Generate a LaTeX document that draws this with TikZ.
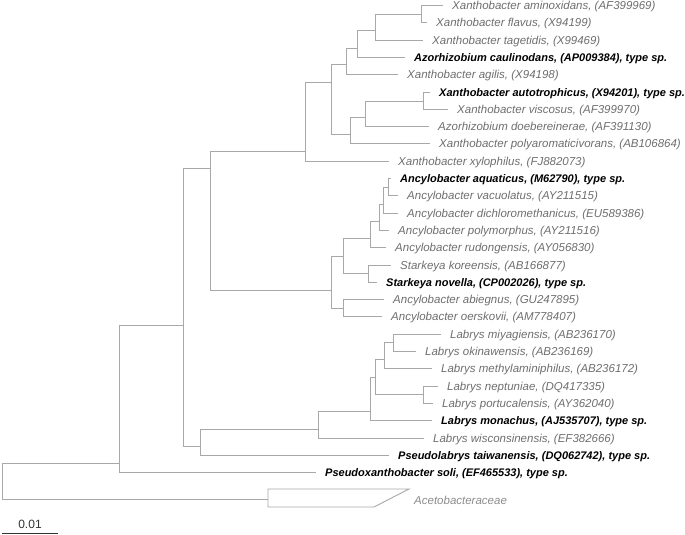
\documentclass[tikz,border=0pt]{standalone}
\usepackage{fontspec}
\setmainfont{Liberation Sans}
\definecolor{brc}{HTML}{A8A8A8}
\definecolor{txc}{HTML}{6E6E6E}
\definecolor{acc}{HTML}{8C8C8C}
\tikzset{
 br/.style={draw=brc, line width=0.9pt},
 lf/.style={anchor=west, inner xsep=9pt, inner ysep=0pt, text height=8pt, text depth=0pt, font=\fontsize{11.5}{12}\selectfont\itshape, text=txc},
 tp/.style={lf, text=black, font=\fontsize{11}{12}\selectfont\bfseries\itshape},
}
\begin{document}
\begin{tikzpicture}[x=1pt,y=-1pt]
\useasboundingbox (0,0) rectangle (685,535);
% internal nodes
\coordinate (root) at (2,481);
\coordinate (n119) at (119,463);
\coordinate (n183) at (183,325);
\coordinate (n210) at (210,168);
\coordinate (n305) at (305,151);
\coordinate (n331) at (331,82);
\coordinate (n346) at (346,64);
\coordinate (n357) at (357,48);
\coordinate (n375) at (375,30);
\coordinate (naf) at (421,14);
\coordinate (n350) at (350,134);
\coordinate (n365) at (365,117);
\coordinate (nav) at (423,101);
\coordinate (n331b) at (331,290);
\coordinate (n343b) at (343,308);
\coordinate (n343a) at (343,256);
\coordinate (n367b) at (368,273);
\coordinate (n367a) at (370,238);
\coordinate (n377) at (379,221);
\coordinate (n384) at (383,204);
\coordinate (n389) at (388,187);
\coordinate (n200) at (200,446);
\coordinate (n318) at (318,429);
\coordinate (n370) at (370,411);
\coordinate (n375L) at (375,377);
\coordinate (n384L) at (384,359);
\coordinate (n393) at (393,342);
\coordinate (n423) at (423,394);
% leaves
\node[lf] (L1) at (443,5.5) {Xanthobacter aminoxidans, (AF399969)};
\node[lf] (L2) at (427,22.8) {Xanthobacter flavus, (X94199)};
\node[lf] (L3) at (423,40.1) {Xanthobacter tagetidis, (X99469)};
\node[tp] (L4) at (405,57.4) {Azorhizobium caulinodans, (AP009384), type sp.};
\node[lf] (L5) at (398,74.7) {Xanthobacter agilis, (X94198)};
\node[tp] (L6) at (430,92.0) {Xanthobacter autotrophicus, (X94201), type sp.};
\node[lf] (L7) at (448,109.3) {Xanthobacter viscosus, (AF399970)};
\node[lf] (L8) at (429,126.6) {Azorhizobium doebereinerae, (AF391130)};
\node[lf] (L9) at (430,143.9) {Xanthobacter polyaromaticivorans, (AB106864)};
\node[lf] (L10) at (389,161.2) {Xanthobacter xylophilus, (FJ882073)};
\node[tp] (L11) at (391,178.5) {Ancylobacter aquaticus, (M62790), type sp.};
\node[lf] (L12) at (398,195.8) {Ancylobacter vacuolatus, (AY211515)};
\node[lf] (L13) at (398,213.1) {Ancylobacter dichloromethanicus, (EU589386)};
\node[lf] (L14) at (389,230.4) {Ancylobacter polymorphus, (AY211516)};
\node[lf] (L15) at (386,247.7) {Ancylobacter rudongensis, (AY056830)};
\node[lf] (L16) at (391,265.0) {Starkeya koreensis, (AB166877)};
\node[tp] (L17) at (377,282.3) {Starkeya novella, (CP002026), type sp.};
\node[lf] (L18) at (384,299.6) {Ancylobacter abiegnus, (GU247895)};
\node[lf] (L19) at (382,316.9) {Ancylobacter oerskovii, (AM778407)};
\node[lf] (L20) at (441,334.2) {Labrys miyagiensis, (AB236170)};
\node[lf] (L21) at (416,351.5) {Labrys okinawensis, (AB236169)};
\node[lf] (L22) at (432,368.8) {Labrys methylaminiphilus, (AB236172)};
\node[lf] (L23) at (438,386.1) {Labrys neptuniae, (DQ417335)};
\node[lf] (L24) at (433,403.4) {Labrys portucalensis, (AY362040)};
\node[tp] (L25) at (432,420.7) {Labrys monachus, (AJ535707), type sp.};
\node[lf] (L26) at (424,438.0) {Labrys wisconsinensis, (EF382666)};
\node[tp] (L27) at (389,455.3) {Pseudolabrys taiwanensis, (DQ062742), type sp.};
\node[tp] (L28) at (316,472.6) {Pseudoxanthobacter soli, (EF465533), type sp.};
% outgroup
\coordinate (tri) at (268,499);
\path[br] (tri) ++(0,-10) coordinate (triA) -- ++(141,0) coordinate (triB) -- ++(-35,18) coordinate (triC) -- (268,507) coordinate (triD) -- cycle;
\node[lf, text=acc, inner xsep=0pt] (acet) at (414,500) {Acetobacteraceae};
% branches
\draw[br] (root) |- (n119);
\draw[br] (root) |- (tri);
\draw[br] (n119) |- (n183);
\draw[br] (n119) |- (L28.west);
\draw[br] (n183) |- (n210);
\draw[br] (n183) |- (n200);
\draw[br] (n210) |- (n305);
\draw[br] (n210) |- (n331b);
\draw[br] (n305) |- (n331);
\draw[br] (n305) |- (L10.west);
\draw[br] (n331) |- (n346);
\draw[br] (n331) |- (n350);
\draw[br] (n346) |- (n357);
\draw[br] (n346) |- (L5.west);
\draw[br] (n357) |- (n375);
\draw[br] (n357) |- (L4.west);
\draw[br] (n375) |- (naf);
\draw[br] (n375) |- (L3.west);
\draw[br] (naf) |- (L1.west);
\draw[br] (naf) |- (L2.west);
\draw[br] (n350) |- (n365);
\draw[br] (n350) |- (L9.west);
\draw[br] (n365) |- (nav);
\draw[br] (n365) |- (L8.west);
\draw[br] (nav) |- (L6.west);
\draw[br] (nav) |- (L7.west);
\draw[br] (n331b) |- (n343a);
\draw[br] (n331b) |- (n343b);
\draw[br] (n343b) |- (L18.west);
\draw[br] (n343b) |- (L19.west);
\draw[br] (n343a) |- (n367a);
\draw[br] (n343a) |- (n367b);
\draw[br] (n367b) |- (L16.west);
\draw[br] (n367b) |- (L17.west);
\draw[br] (n367a) |- (n377);
\draw[br] (n367a) |- (L15.west);
\draw[br] (n377) |- (n384);
\draw[br] (n377) |- (L14.west);
\draw[br] (n384) |- (n389);
\draw[br] (n384) |- (L13.west);
\draw[br] (n389) |- (L11.west);
\draw[br] (n389) |- (L12.west);
\draw[br] (n200) |- (n318);
\draw[br] (n200) |- (L27.west);
\draw[br] (n318) |- (n370);
\draw[br] (n318) |- (L26.west);
\draw[br] (n370) |- (n375L);
\draw[br] (n370) |- (L25.west);
\draw[br] (n375L) |- (n384L);
\draw[br] (n375L) |- (n423);
\draw[br] (n384L) |- (n393);
\draw[br] (n384L) |- (L22.west);
\draw[br] (n393) |- (L20.west);
\draw[br] (n393) |- (L21.west);
\draw[br] (n423) |- (L23.west);
\draw[br] (n423) |- (L24.west);
% scale bar
\coordinate (sbA) at (2,533);
\coordinate (sbB) at (58,533);
\draw[draw=black!80, line width=0.8pt] (sbA) -- (sbB);
\node[font=\fontsize{12}{12}\selectfont, text=black!80, anchor=south, inner sep=1pt] (sbl) at (30,530) {0.01};
\end{tikzpicture}
\end{document}
